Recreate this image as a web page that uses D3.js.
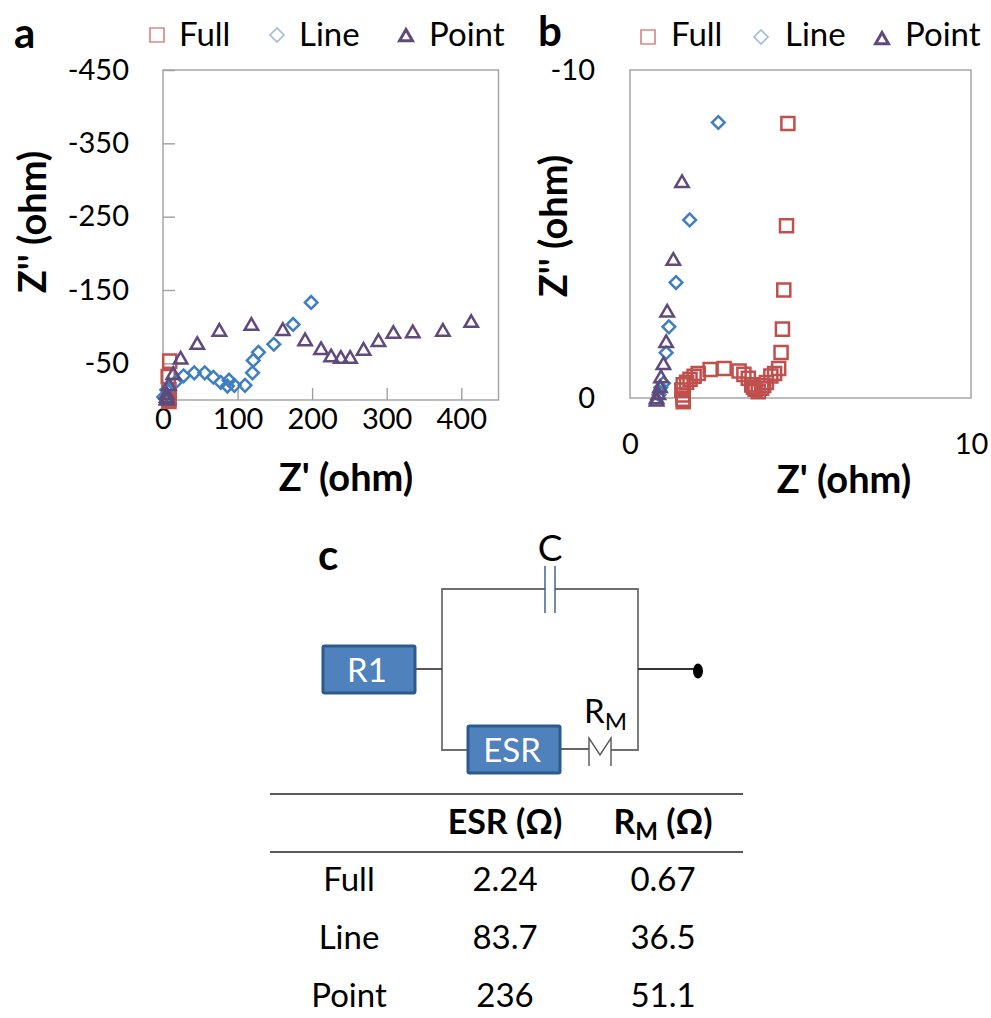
<!DOCTYPE html>
<html>
<head>
<meta charset="utf-8">
<script src="https://cdn.jsdelivr.net/npm/d3@7"></script>
<style>
html,body{margin:0;padding:0;background:#fff}
svg{display:block}
text{font-family:Lato,"Open Sans",sans-serif;fill:#000}
</style>
</head>
<body>
<svg id="chart" width="991" height="1018"></svg>
<script>
// panel a values
const fullAX=[9,7,8,8,8,8]
const fullAY=[-53,-32,-14,-4,-1,2]
const lineAX=[198.7,174.5,148.6,128,121,120,110,95.7,88.6,86.4,77.5,67.5,56,41.9,27.6,16.4,5,1]
const lineAY=[-133,-103,-76,-65,-54,-37,-20,-20,-27,-19,-24,-31,-37,-37,-33,-24,-14,-4]
const pointAX=[413.4,375.4,335,309,289,269,251,238.5,225.5,212,190.6,160.7,118.5,75.6,46,23.6,13.8,8,5,5,5,5]
const pointAY=[-105,-93,-91,-90,-79,-67,-56,-56,-58,-68,-80,-94,-101,-93,-75,-55,-34,-19,-7,-3,0,1]
// panel b values
const fullBX=[4.63,4.59,4.51,4.47,4.43,4.36,4.24,4.13,4,3.92,3.86,3.76,3.67,3.62,3.57,3.47,3.34,3.2,2.76,2.35,2,1.88,1.76,1.66,1.56,1.52,1.55,1.56,1.56]
const fullBY=[8.37,5.25,3.29,2.1,1.39,0.9,0.75,0.67,0.47,0.38,0.3,0.19,0.27,0.33,0.4,0.6,0.72,0.82,0.9,0.87,0.75,0.66,0.57,0.48,0.4,0.24,0.09,-0.04,-0.11]
const lineBX=[2.59,1.75,1.35,1.14,1.06,0.98,0.9,0.85]
const lineBY=[8.4,5.43,3.52,2.17,1.38,0.45,0.32,0.1]
const pointBX=[1.525,1.27,1.09,1.06,0.98,0.91,0.88,0.83,0.78,0.78]
const pointBY=[6.55,4.18,2.6,1.67,1,0.6,0.3,0.09,-0.04,-0.11]
// axis ticks
const aXTicks=[0,100,200,300,400]
const aYTicks=[-450,-350,-250,-150,-50]
const bXTicks=[0,10]
const bYTicks=[-10,0]
// table
const seriesNames=['Full','Line','Point']
const esrValues=['2.24','83.7','236']
const rmValues=['0.67','36.5','51.1']

const svg=d3.select('#chart')
const red='#c0504d',blue='#3f7fc1',purple='#604a7b'

function marker(kind,size){
  if(kind=='tri') return d3.symbol().type(d3.symbolTriangle).size(size)()
  return d3.symbol().type(d3.symbolSquare).size(size)()
}
function drawSeries(g,xs,ys,x,y,kind,color){
  g.selectAll('path.m-'+kind)
    .data(xs.map((d,i)=>[d,ys[i]]))
    .enter().append('path')
    .attr('class','m-'+kind)
    .attr('d',marker(kind,kind=='dia'?80:kind=='tri'?78:170))
    .attr('transform',d=>`translate(${x(d[0])},${y(d[1])})`+(kind=='dia'?' rotate(45)':''))
    .attr('fill','none')
    .attr('stroke',color)
    .attr('stroke-width',2.5)
}
function legend(items){
  items.forEach(it=>{
    svg.append('path')
      .attr('d',marker(it.kind,it.kind=='dia'?100:it.kind=='tri'?72:196))
      .attr('transform',`translate(${it.mx},${it.my})`+(it.kind=='dia'?' rotate(45)':''))
      .attr('fill','none').attr('stroke',it.color).attr('stroke-width',it.kind=='tri'?3:1.7)
    svg.append('text').attr('x',it.tx).attr('y',46).attr('font-size',33).text(it.name)
  })
}
function panel(o){
  const x=d3.scaleLinear().domain(o.xd).range([o.l,o.r])
  const y=d3.scaleLinear().domain(o.yd).range([o.t,o.b])
  svg.append('rect').attr('x',o.l).attr('y',o.t).attr('width',o.r-o.l).attr('height',o.b-o.t)
    .attr('fill','none').attr('stroke','#a0a0a0').attr('stroke-width',1.4)
  const ax=svg.append('g').attr('transform',`translate(0,${o.b})`)
    .call(d3.axisBottom(x).tickValues(o.xt).tickSize(o.ts?-12:0).tickPadding(o.xp).tickFormat(d3.format('d')))
  const ay=svg.append('g').attr('transform',`translate(${o.l},0)`)
    .call(d3.axisLeft(y).tickValues(o.yt).tickSize(o.ts?-12:0).tickPadding(o.yp).tickFormat(d=>d==0?'0':'-'+Math.abs(d)))
  ;[ax,ay].forEach(a=>{
    a.select('.domain').remove()
    a.selectAll('line').attr('stroke','#a0a0a0').attr('stroke-width',1.4)
    a.selectAll('text').attr('font-size',o.fs).style('font-family','Lato').attr('fill','#000')
  })
  const g=svg.append('g')
  drawSeries(g,o.fx,o.fy,x,y,'sq',red)
  drawSeries(g,o.lx,o.ly,x,y,'dia',blue)
  drawSeries(g,o.px,o.py,x,y,'tri',purple)
}

panel({l:163,r:498.5,t:70,b:400,xd:[0,450],yd:[-450,0],xt:aXTicks,yt:aYTicks,ts:true,xp:8,yp:34,fs:29,
  fx:fullAX,fy:fullAY,lx:lineAX,ly:lineAY,px:pointAX,py:pointAY})
panel({l:630,r:971,t:70,b:398,xd:[0,10],yd:[-10,0],xt:bXTicks,yt:bYTicks,ts:false,xp:35,yp:35,fs:29,
  fx:fullBX,fy:fullBY.map(d=>-d),lx:lineBX,ly:lineBY.map(d=>-d),px:pointBX,py:pointBY.map(d=>-d)})

legend([
  {kind:'sq',color:'#d98a88',mx:157,my:35,tx:179,name:'Full'},
  {kind:'dia',color:'#a4c0e2',mx:277,my:35,tx:299,name:'Line'},
  {kind:'tri',color:purple,mx:406,my:37,tx:429,name:'Point'},
  {kind:'sq',color:'#d98a88',mx:648,my:37,tx:671,name:'Full'},
  {kind:'dia',color:'#a4c0e2',mx:761,my:37,tx:785,name:'Line'},
  {kind:'tri',color:purple,mx:882,my:40,tx:905,name:'Point'}
])

function bold(t,x,y,size,anchor){
  return svg.append('text').attr('x',x).attr('y',y).attr('font-size',size)
    .attr('font-weight',700).attr('text-anchor',anchor||'start').text(t)
}
bold('a',14,48,42)
bold('b',538,46,42)
bold('c',318,570,42)
bold("Z' (ohm)",346,491,38,'middle')
bold("Z' (ohm)",844,493,38,'middle')
bold("Z'' (ohm)",0,0,38,'middle').attr('transform','translate(46,222) rotate(-90)')
bold("Z'' (ohm)",0,0,38,'middle').attr('transform','translate(567,226) rotate(-90)')

// circuit
const wire=(pts,c,w)=>svg.append('path').attr('d',d3.line()(pts)).attr('fill','none')
  .attr('stroke',c||'#6e6e6e').attr('stroke-width',w||1.8)
wire([[545,589],[442,589],[442,750],[468,750]])
wire([[555,589],[638,589],[638,750],[611,750]])
wire([[413,669],[442,669]],'#444')
wire([[638,669],[697,669]],'#333')
wire([[560,749],[589,749]],'#555')
wire([[545,566],[545,613]],'#2f5b8f',1.4)
wire([[555,566],[555,613]],'#2f5b8f',1.4)
wire([[589,766],[589,738],[600,755],[611,738],[611,766]],'#555',1.4)
svg.append('ellipse').attr('cx',698).attr('cy',671).attr('rx',5).attr('ry',7.5).attr('fill','#000')
;[['R1',323,646,92,47],['ESR',468,726,92,47]].forEach(b=>{
  svg.append('rect').attr('x',b[1]).attr('y',b[2]).attr('width',b[3]).attr('height',b[4]).attr('rx',1.5)
    .attr('fill','#4f81bd').attr('stroke','#2c5a8e').attr('stroke-width',3)
  svg.append('text').attr('x',b[1]+b[3]/2-2).attr('y',b[2]+b[4]/2+12).attr('text-anchor','middle')
    .attr('font-size',33).style('fill','#fff').text(b[0])
})
svg.append('text').attr('x',550).attr('y',561).attr('text-anchor','middle').attr('font-size',37).text('C')
const rm=svg.append('text').attr('x',584).attr('y',723).attr('font-size',33)
rm.append('tspan').text('R')
rm.append('tspan').attr('font-size',24).attr('dy',7).text('M')

// table
wire([[270,794],[743,794]],'#222',1.5)
wire([[270,852],[743,852]],'#222',1.5)
const colX=[349,505,663]
bold('ESR (Ω)',colX[1],834,34,'middle')
const rh=bold('R',colX[2],834,34,'middle')
rh.append('tspan').attr('font-size',24).attr('dy',6).text('M')
rh.append('tspan').attr('dy',-6).text(' (Ω)')
const rowY=d3.scalePoint().domain(seriesNames).range([891,1007])
const rows=svg.selectAll('g.row').data(seriesNames).enter().append('g').attr('class','row')
const cell=(col,f)=>rows.append('text').attr('x',colX[col]).attr('y',d=>rowY(d))
  .attr('text-anchor','middle').attr('font-size',33).text(f)
cell(0,d=>d)
cell(1,(d,i)=>esrValues[i])
cell(2,(d,i)=>rmValues[i])
</script>
</body>
</html>
